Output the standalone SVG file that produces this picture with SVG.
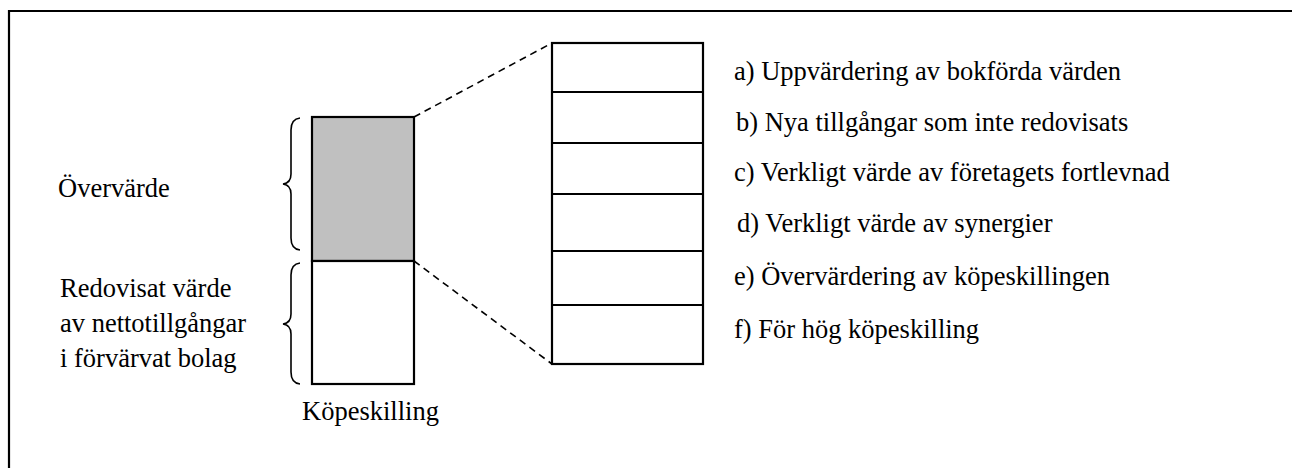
<svg xmlns="http://www.w3.org/2000/svg" width="1292" height="468" viewBox="0 0 1292 468">
  <style>
    .txt { font-family: 'Liberation Serif', 'Times New Roman', Times, 'DejaVu Serif', serif; font-size: 26.5px; fill: #000; }
    .box { fill: #fff; stroke: #000; stroke-width: 2.2; }
    .shade { fill: #c0c0c0; stroke: #000; stroke-width: 2.2; }
    .brace { fill: none; stroke: #000; stroke-width: 1.6; }
    .dash { fill: none; stroke: #000; stroke-width: 1.6; stroke-dasharray: 7 5; }
    .rule { fill: none; stroke: #000; stroke-width: 2.2; }
  </style>
  <rect width="1292" height="468" fill="#fff"/>
  <!-- outer frame (only top and left sides fall inside the canvas) -->
  <path class="rule" d="M9,468 V11 H1292"/>

  <g font-family="Liberation Serif, Times New Roman, serif">
    <!-- purchase price column -->
    <g id="purchase-price">
      <rect class="shade" x="312" y="117" width="102" height="144"/>
      <rect class="box" x="312" y="261" width="102" height="123"/>
      <text class="txt" x="302" y="420">Köpeskilling</text>
    </g>

    <!-- braces and their labels -->
    <g id="surplus">
      <path class="brace" d="M300,118 Q291,119 291,130 V174 Q291,183 283,184 Q291,185 291,194 V238 Q291,249 300,250"/>
      <text class="txt" x="58" y="197">Övervärde</text>
    </g>
    <g id="book-value">
      <path class="brace" d="M300,263 Q291,264 291,275 V314 Q291,323 283,324 Q291,325 291,334 V372 Q291,383 300,384"/>
      <text class="txt" x="60" y="297">Redovisat värde</text>
      <text class="txt" x="60" y="332">av nettotillgångar</text>
      <text class="txt" x="60" y="367">i förvärvat bolag</text>
    </g>

    <!-- breakdown of the surplus -->
    <g id="breakdown">
      <rect class="box" x="552" y="43" width="151" height="321"/>
      <path class="rule" d="M552,92 H703 M552,143 H703 M552,194 H703 M552,251 H703 M552,305 H703"/>
      <text class="txt" x="734" y="80">a) Uppvärdering av bokförda värden</text>
      <text class="txt" x="736" y="131">b) Nya tillgångar som inte redovisats</text>
      <text class="txt" x="734" y="181">c) Verkligt värde av företagets fortlevnad</text>
      <text class="txt" x="737" y="232">d) Verkligt värde av synergier</text>
      <text class="txt" x="734" y="285">e) Övervärdering av köpeskillingen</text>
      <text class="txt" x="734" y="338">f) För hög köpeskilling</text>
    </g>
  </g>

  <!-- dashed projection lines -->
  <g id="connectors">
    <path class="dash" d="M414,117 L552,43"/>
    <path class="dash" d="M414,261 L552,364"/>
  </g>
</svg>
